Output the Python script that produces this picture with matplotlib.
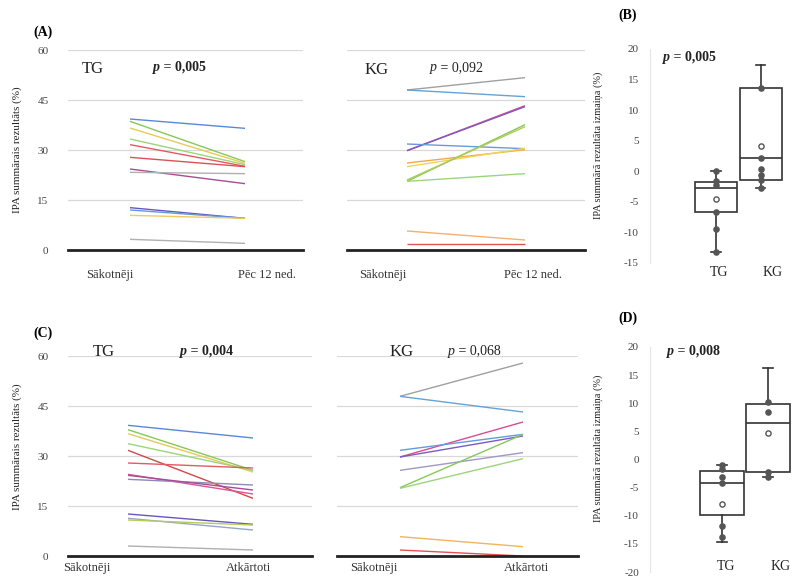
import matplotlib
matplotlib.use("Agg")
import matplotlib.pyplot as plt
import numpy as np

plt.rcParams['font.family'] = ['Liberation Serif', 'DejaVu Serif']
plt.rcParams['axes.unicode_minus'] = False

# ---------------- data ----------------
time_labels_A = ["Sākotnēji", "Pēc 12 ned."]
time_labels_C = ["Sākotnēji", "Atkārtoti"]

tgA_start = [39.3, 38.6, 36.6, 33.3, 31.6, 27.8, 24.3, 23.3, 12.7, 12.0, 10.4, 3.2]
tgA_end   = [36.5, 26.5, 26.0, 25.6, 25.1, 25.0, 19.9, 22.9, 9.5, 9.5, 9.5, 2.0]
kgA_start = [48.0, 48.0, 29.8, 29.8, 31.8, 26.1, 25.0, 20.6, 21.0, 20.6, 5.7, 1.9]
kgA_end   = [51.7, 46.0, 43.3, 43.0, 30.4, 30.1, 30.5, 37.6, 37.0, 22.9, 3.0, 1.9]

tgC_start = [39.2, 37.9, 36.7, 33.7, 31.7, 27.9, 24.5, 23.0, 24.2, 12.6, 11.3, 10.8, 3.0]
tgC_end   = [35.4, 25.7, 25.2, 25.7, 17.3, 26.4, 18.6, 21.3, 19.8, 9.5, 7.8, 9.3, 1.8]
kgC_start = [47.9, 47.9, 29.7, 31.7, 29.7, 25.7, 20.5, 20.3, 5.8, 1.8]
kgC_end   = [57.9, 43.2, 40.2, 36.5, 36.0, 31.0, 36.5, 29.2, 2.8, 0.0]

groups = ["TG", "KG"]
# panel B box stats
B_q1 = [-6.7, -1.4]
B_med = [-2.7, 2.2]
B_q3 = [-1.8, 13.6]
B_lo = [-13.2, -2.7]
B_hi = [0.1, 17.4]
B_mean = [-4.6, 4.1]
B_pts_tg = [0.1, -1.6, -2.2, -6.7, -9.4, -13.2]
B_pts_kg = [13.6, 2.2, 0.3, -0.6, -1.4, -2.7]
# panel D box stats
D_q1 = [-9.8, -2.2]
D_med = [-4.1, 6.5]
D_q3 = [-2.1, 9.8]
D_lo = [-14.7, -3.1]
D_hi = [-0.9, 16.3]
D_mean = [-7.9, 4.7]
D_pts_tg = [-0.9, -1.6, -3.1, -4.2, -11.9, -13.8]
D_pts_kg = [10.2, 8.4, -2.2, -3.1]

p_A = ["0,005", "0,092"]
p_C = ["0,004", "0,068"]
p_B = "0,005"
p_D = "0,008"

# ---------------- styles ----------------
col_tgA = ['#5a88d8', '#86c85a', '#e8ca5a', '#9ad67a', '#e25a62', '#da5252',
           '#a84c96', '#b0b0b0', '#6656c4', '#6698dc', '#f2ca5c', '#b0b0b0']
col_kgA = ['#a0a0a0', '#66a2d8', '#da4c92', '#7a5ac4', '#669adc', '#f2a84c',
           '#f2d45c', '#86c85a', '#aecc56', '#9ad67a', '#f4b070', '#e25252']
col_tgC = ['#5a88d8', '#86c85a', '#e8ca5a', '#9ad67a', '#cc4a4a', '#e25a62',
           '#da5498', '#9088b8', '#a84c96', '#6656c4', '#94a8c6', '#b6cc56', '#b0b0b0']
col_kgC = ['#a0a0a0', '#66a2d8', '#da4c92', '#669adc', '#7a5ac4', '#a098c6',
           '#86c85a', '#9ad67a', '#f2b45c', '#e25252']

W, H = 792, 579
fig = plt.figure(figsize=(W / 100, H / 100), dpi=100)


def px_axes(x0, y0, x1, y1):
    return fig.add_axes([x0 / W, 1 - y1 / H, (x1 - x0) / W, (y1 - y0) / H])


def line_panel(ax_px, line_px, lab_px, starts, ends, colors, labels, show_y, lab_pad):
    ax = px_axes(*ax_px)
    l0, l1 = line_px
    s = l1 - l0
    for a, b, c in zip(starts, ends, colors):
        ax.plot([0, 1], [a, b], color=c, lw=1.0, solid_capstyle='butt')
    ax.set_xlim((ax_px[0] - l0) / s, (ax_px[2] - l0) / s)
    ax.set_ylim(0, 60)
    ax.set_yticks([0, 15, 30, 45, 60])
    ax.yaxis.grid(True, color='#d9d9d9', lw=0.9)
    ax.set_axisbelow(True)
    for sp in ['left', 'right', 'top']:
        ax.spines[sp].set_visible(False)
    ax.spines['bottom'].set_color('#222222')
    ax.spines['bottom'].set_linewidth(2.0)
    ax.set_xticks([(lab_px[0] - l0) / s, (lab_px[1] - l0) / s])
    ax.set_xticklabels(labels, fontsize=9, color='#333333')
    ax.tick_params(axis='x', length=0, pad=lab_pad)
    ax.tick_params(axis='y', length=0, labelsize=8, labelcolor='#444444', pad=14)
    if not show_y:
        ax.set_yticklabels([])
    return ax


axA1 = line_panel((68, 50, 303, 250), (130, 245), (110, 267), tgA_start, tgA_end,
                  col_tgA, time_labels_A, True, 14)
axA2 = line_panel((347, 50, 585, 250), (407, 525), (383, 533), kgA_start, kgA_end,
                  col_kgA, time_labels_A, False, 14)
axC1 = line_panel((68, 356, 312, 556), (128, 253), (87, 249), tgC_start, tgC_end,
                  col_tgC, time_labels_C, True, 4)
axC2 = line_panel((337, 356, 578, 556), (400, 523), (374, 527), kgC_start, kgC_end,
                  col_kgC, time_labels_C, False, 4)


def ptext(x, y, val, bold):
    w = 'bold' if bold else 'normal'
    t = fig.text(x / W, 1 - y / H, "p", fontsize=10, fontstyle='italic',
                 fontweight=w, va='center', ha='left', color='#222222')
    fig.text(0, 0, f" = {val}", fontsize=10, fontweight=w, va='center', ha='left',
             color='#222222')
    fig.texts[-1].remove()
    fig.get_figure().axes  # no-op
    an = plt.annotate(f" = {val}", xy=(1, 0.5), xycoords=t, xytext=(0, 0),
                      textcoords='offset points', fontsize=10, fontweight=w,
                      va='center', ha='left', color='#222222', annotation_clip=False)
    return an


def gtext(x, y, s):
    fig.text(x / W, 1 - y / H, s, fontsize=12, va='center', ha='left', color='#222222')


gtext(82, 69, "TG"); ptext(153, 67, p_A[0], True)
gtext(365, 70, "KG"); ptext(430, 68, p_A[1], False)
gtext(93, 352, "TG"); ptext(180, 351, p_C[0], True)
gtext(390, 352, "KG"); ptext(448, 351, p_C[1], False)

for lab, y in [("(A)", 32), ("(C)", 333)]:
    fig.text(33 / W, 1 - y / H, lab, fontsize=10, fontweight='bold', va='center', ha='left')
for lab, y in [("(B)", 15), ("(D)", 318)]:
    fig.text(618 / W, 1 - y / H, lab, fontsize=10, fontweight='bold', va='center', ha='left')

fig.text(17 / W, 1 - 150 / H, "IPA summārais rezultāts (%)", rotation=90, fontsize=8,
         va='center', ha='center', color='#222222')
fig.text(17 / W, 1 - 447 / H, "IPA summārais rezultāts (%)", rotation=90, fontsize=8,
         va='center', ha='center', color='#222222')


def box_panel(ax_px, ylim, yticks, centers_px, width_px, q1, med, q3, lo, hi, mean,
              pts_list, lab_y_px):
    ax = px_axes(*ax_px)
    c0, c1 = centers_px
    sp = c1 - c0
    ax.set_xlim(1 + (ax_px[0] - c0) / sp, 1 + (ax_px[2] - c0) / sp)
    ax.set_ylim(*ylim)
    stats = []
    for i in range(2):
        stats.append(dict(med=med[i], q1=q1[i], q3=q3[i], whislo=lo[i], whishi=hi[i],
                          mean=mean[i], fliers=[], label=groups[i]))
    ax.bxp(stats, positions=[1, 2], widths=width_px / sp, showmeans=False,
           patch_artist=True,
           boxprops=dict(facecolor='white', edgecolor='#333333', lw=1.2),
           medianprops=dict(color='#333333', lw=1.2),
           whiskerprops=dict(color='#333333', lw=1.2),
           capprops=dict(color='#333333', lw=1.2), capwidths=0.22)
    for i, pts in enumerate(pts_list):
        ax.scatter(np.full(len(pts), i + 1), pts, s=14, color='#555555', zorder=5)
        ax.scatter([i + 1], [mean[i]], s=14, facecolor='white', edgecolor='#555555',
                   lw=1.0, zorder=5)
    ax.set_yticks(yticks)
    ax.set_xticks([])
    for s in ['right', 'top', 'bottom']:
        ax.spines[s].set_visible(False)
    ax.spines['left'].set_color('#e6e6e6')
    ax.tick_params(axis='y', length=0, labelsize=8, labelcolor='#444444', pad=8)
    yfrac = 1 - (lab_y_px - ax_px[1]) / (ax_px[3] - ax_px[1])
    for i, g in enumerate(groups):
        ax.text([1.08, 2.28][i], yfrac, g, transform=ax.get_xaxis_transform(),
                fontsize=10, ha='center', va='center', color='#222222', clip_on=False)
    ax.set_facecolor('none')
    return ax


axB = box_panel((650, 49, 792, 263), (-15, 20), list(range(-15, 21, 5)), (716, 760.5), 42,
                B_q1, B_med, B_q3, B_lo, B_hi, B_mean, [B_pts_tg, B_pts_kg], 272)
axD = box_panel((650, 347, 792, 572), (-20, 20), list(range(-20, 21, 5)), (722, 768), 44,
                D_q1, D_med, D_q3, D_lo, D_hi, D_mean, [D_pts_tg, D_pts_kg], 567)

ptext(663, 57, p_B, True)
ptext(667, 351, p_D, True)
fig.text(598 / W, 1 - 145 / H, "IPA summārā rezultāta izmaiņa (%)", rotation=90, fontsize=7.5,
         va='center', ha='center', color='#222222')
fig.text(598 / W, 1 - 448 / H, "IPA summārā rezultāta izmaiņa (%)", rotation=90, fontsize=7.5,
         va='center', ha='center', color='#222222')

fig.savefig("out.png", dpi=100)
